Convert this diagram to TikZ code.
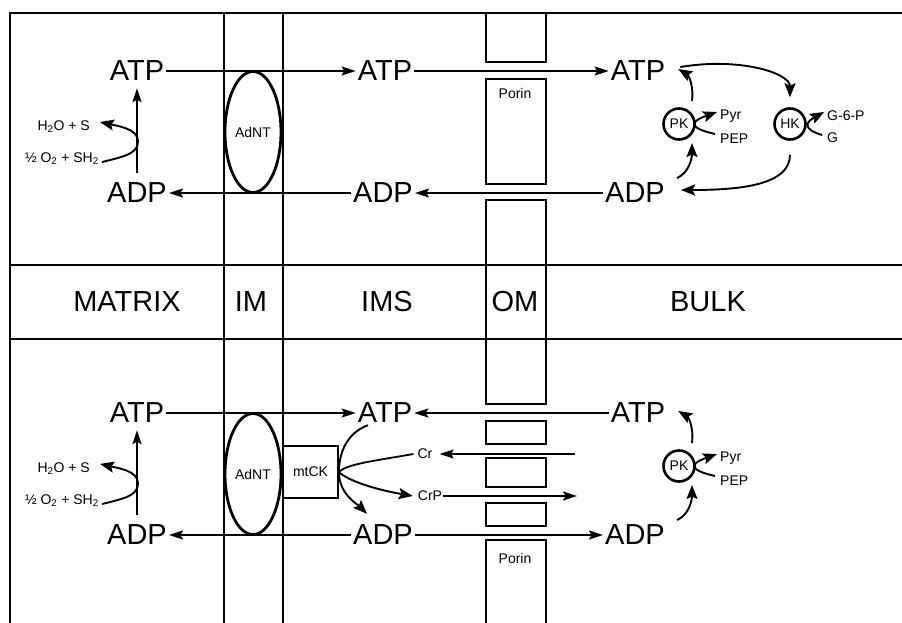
\documentclass[tikz,border=0pt]{standalone}
\usepackage{fontspec}
\setmainfont{Liberation Sans}
\usetikzlibrary{arrows.meta,shapes.geometric,calc}

\tikzset{
  big/.style={font=\fontsize{29}{30}\selectfont, inner sep=2pt},
  small/.style={font=\fontsize{14}{15}\selectfont, inner sep=1pt},
  wall/.style={line width=1.9pt},
  flow/.style={line width=1.8pt, -{Stealth[length=14pt,width=9pt,inset=2.5pt]}},
  curl/.style={line width=1.9pt, -{Stealth[length=14pt,width=11pt,inset=2.5pt]}},
  enzyme/.style={circle, draw, line width=2.6pt, minimum size=31pt, inner sep=0pt,
    font=\fontsize{14}{15}\selectfont},
  carrier/.style={ellipse, draw, line width=2.8pt, minimum width=56pt, minimum height=121pt,
    inner sep=0pt, font=\fontsize{14}{15}\selectfont},
}

\begin{document}
\begin{tikzpicture}[x=1pt,y=-1pt]
  \useasboundingbox (0,0) rectangle (902,623);
  % compartments
  \draw[wall] (10,623) -- (10,13) -- (902,13);
  \draw[wall] (10,265) -- (902,265) (10,339) -- (902,339);
  \draw[wall] (224,13) -- (224,623) (283,13) -- (283,623);
  % outer membrane with porin
  \foreach \a/\b in {13/62, 79/184, 200/404, 421/444, 458/487, 503/526}
    \draw[wall] (486,\a) rectangle (546,\b);
  \draw[wall] (486,623) -- (486,540) -- (546,540) -- (546,623);
  \node[small] (porinT) at (515,93) {Porin};
  \node[small] (porinB) at (515,558) {Porin};

  \node[big] (matrix) at (127,302) {MATRIX};
  \node[big] (im) at (251,302) {IM};
  \node[big] (ims) at (387,302) {IMS};
  \node[big] (om) at (515,302) {OM};
  \node[big] (bulk) at (708,302) {BULK};

  % both halves: matrix, carrier, PK
  \foreach \n/\dy in {T/0, B/342} {
    \node[big] (atpM\n) at (137,{71+\dy}) {ATP};
    \node[big] (adpM\n) at (137,{193+\dy}) {ADP};
    \node[big] (atpI\n) at (385,{71+\dy}) {ATP};
    \node[big] (adpI\n) at (383,{193+\dy}) {ADP};
    \node[big] (atpB\n) at (638,{71+\dy}) {ATP};
    \node[big] (adpB\n) at (635,{193+\dy}) {ADP};
    \node[small, anchor=east] (h2o\n) at (91,{127+\dy}) {H\textsubscript{2}O + S};
    \node[small, anchor=east] (o2\n) at (100,{159+\dy}) {½ O\textsubscript{2} + SH\textsubscript{2}};
    \draw[flow] ([yshift=8pt]adpM\n.north) -- ([yshift=-5pt]atpM\n.south);
    \draw[curl] ([shift={(2,3)}]o2\n.east) .. controls +(25,-6) and +(0,12) .. (138,{141+\dy})
      .. controls +(0,-12) and +(18,4) .. ([shift={(9,-5)}]h2o\n.east);
    \node[carrier] (adnt\n) at (253,{132+\dy}) {AdNT};
    % pyruvate kinase
    \node[enzyme] (pk\n) at (679,{124+\dy}) {PK};
    \node[small, anchor=west] (pyr\n) at (719,{116+\dy}) {Pyr};
    \node[small, anchor=west] (pep\n) at (719,{139+\dy}) {PEP};
    \draw[curl] ([shift={(-4,-5)}]pep\n.west) .. controls +(-26,-6) and +(-28,10) .. ([shift={(-2,-4)}]pyr\n.west);
    \draw[curl] ([shift={(13,-23)}]pk\n.center) .. controls +(2,-15) and +(10,6) .. ([shift={(11,-2)}]atpB\n.east);
    \draw[curl] ([shift={(10,-15)}]adpB\n.east) .. controls +(12,-5) and +(0,15) .. ([shift={(13,19)}]pk\n.center);
  }

  % upper half: ATP out, ADP in
  \draw[flow] (atpMT.east) -- (atpIT.west);
  \draw[flow] (atpIT.east) -- (atpBT.west);
  \draw[flow] (adpBT.west) -- (adpIT.east);
  \draw[flow] (adpIT.west) -- (adpMT.east);
  % hexokinase
  \node[enzyme] (hkT) at (790,124) {HK};
  \node[small, anchor=west] (g6pT) at (826,116) {G-6-P};
  \node[small, anchor=west] (gT) at (826,138) {G};
  \draw[curl] ([shift={(-4,-3)}]gT.west) .. controls +(-20,-6) and +(-18,10) .. ([shift={(-2,-4)}]g6pT.west);
  \draw[curl] ([shift={(13,-4)}]atpBT.east) .. controls +(60,-10) and +(0,-24) .. ([yshift=10pt]hkT.north);
  \draw[curl] ([yshift=-14pt]hkT.south) .. controls +(0,30) and +(60,0) .. ([shift={(14,-3)}]adpBT.east);

  % lower half: creatine kinase shuttle
  \draw[flow] (atpMB.east) -- (atpIB.west);
  \draw[flow] (atpBB.west) -- (atpIB.east);
  \draw[flow] (adpIB.west) -- (adpMB.east);
  \draw[flow] (adpIB.east) -- (adpBB.west);
  \node[draw, line width=1.9pt, minimum width=55pt, minimum height=52pt, inner sep=0pt,
    font=\fontsize{14}{15}\selectfont] (mtck) at (310.5,472) {mtCK};
  \node[small] (cr) at (425,454) {Cr};
  \node[small] (crp) at (430,496) {CrP};
  \coordinate (crIn) at (575,454);
  \coordinate (crpOut) at (577,496);
  \draw[line width=1.9pt] ([xshift=-17pt]atpIB.south) .. controls +(-22,8) and +(0,-18) .. (mtck.east);
  \draw[line width=1.8pt] (mtck.east) .. controls +(8,-8) and +(-40,7) .. ([xshift=-3pt]cr.west);
  \draw[curl] (mtck.east) .. controls +(8,8) and +(-40,-7) .. ([xshift=-4pt]crp.west);
  \draw[curl] (mtck.east) .. controls +(0,22) and +(-10,-10) .. ([shift={(-16,-9)}]adpIB.north);
  \draw[flow] (crIn) -- ([xshift=6pt]cr.east);
  \draw[flow] (crp.east) -- (crpOut);
\end{tikzpicture}
\end{document}
